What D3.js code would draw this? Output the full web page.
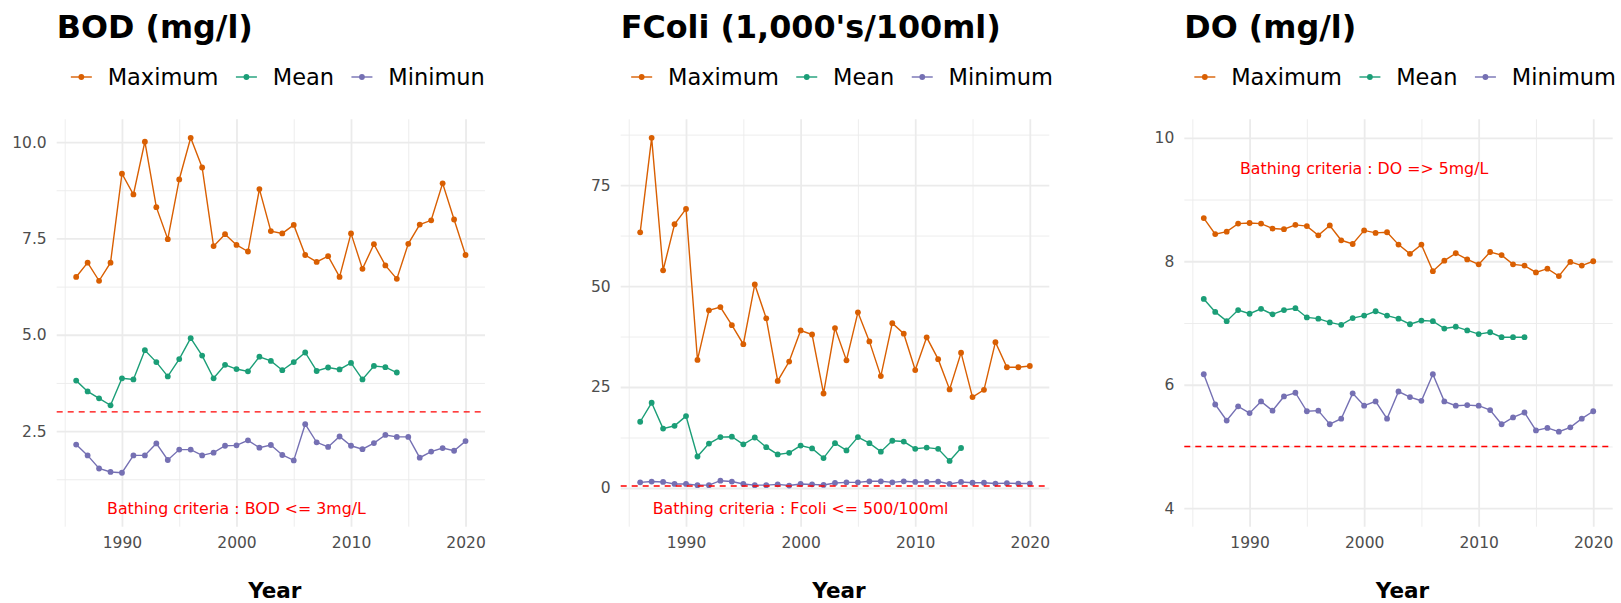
<!DOCTYPE html>
<html>
<head>
<meta charset="utf-8">
<script src="https://cdn.jsdelivr.net/npm/d3@7"></script>
<style>
  body { margin: 0; background: #fff; }
  text { font-family: "DejaVu Sans", sans-serif; }
</style>
</head>
<body>
<div id="chart"></div>
<script>
const years = [1986, 1987, 1988, 1989, 1990, 1991, 1992, 1993, 1994, 1995,
  1996, 1997, 1998, 1999, 2000, 2001, 2002, 2003, 2004, 2005,
  2006, 2007, 2008, 2009, 2010, 2011, 2012, 2013, 2014, 2015,
  2016, 2017, 2018, 2019, 2020];

const bodMax = [6.50, 6.87, 6.40, 6.87, 9.18, 8.64, 10.01, 8.31, 7.48, 9.03,
  10.11, 9.34, 7.30, 7.61, 7.33, 7.16, 8.78, 7.69, 7.63, 7.85,
  7.07, 6.89, 7.04, 6.50, 7.63, 6.71, 7.35, 6.80, 6.45, 7.36,
  7.86, 7.97, 8.93, 7.99, 7.07];
const bodMean = [3.81, 3.53, 3.35, 3.17, 3.87, 3.84, 4.60, 4.29, 3.92, 4.37,
  4.91, 4.46, 3.87, 4.22, 4.11, 4.05, 4.43, 4.32, 4.08, 4.29,
  4.54, 4.06, 4.15, 4.10, 4.27, 3.84, 4.19, 4.16, 4.02];
const bodMin = [2.15, 1.87, 1.53, 1.44, 1.42, 1.87, 1.87, 2.18, 1.75, 2.02,
  2.02, 1.87, 1.94, 2.12, 2.13, 2.26, 2.07, 2.14, 1.88, 1.74,
  2.68, 2.21, 2.09, 2.36, 2.12, 2.03, 2.19, 2.40, 2.35, 2.35,
  1.81, 1.97, 2.06, 1.99, 2.24];

const fcoliMax = [63.3, 86.7, 53.9, 65.3, 69.1, 31.7, 44.0, 44.8, 40.3, 35.6,
  50.4, 42.0, 26.5, 31.3, 39.0, 38.0, 23.4, 39.6, 31.6, 43.5,
  36.3, 27.7, 40.8, 38.2, 29.2, 37.3, 31.9, 24.4, 33.5, 22.5,
  24.3, 36.1, 29.9, 29.9, 30.2];
const fcoliMean = [16.4, 21.1, 14.7, 15.4, 17.8, 7.8, 11.0, 12.6, 12.7, 10.8,
  12.5, 10.1, 8.3, 8.7, 10.5, 9.8, 7.4, 11.1, 9.3, 12.6,
  11.1, 9.0, 11.7, 11.5, 9.7, 10.0, 9.7, 6.7, 9.9];
const fcoliMin = [1.4, 1.6, 1.5, 1.0, 1.0, 0.7, 0.7, 1.8, 1.6, 1.0,
  0.7, 0.7, 0.9, 0.6, 1.0, 0.9, 0.75, 1.25, 1.4, 1.4,
  1.65, 1.65, 1.4, 1.65, 1.5, 1.5, 1.6, 1.0, 1.5, 1.3,
  1.3, 1.1, 1.2, 1.1, 1.1];

const doMax = [8.70, 8.44, 8.48, 8.61, 8.62, 8.61, 8.53, 8.52, 8.59, 8.57,
  8.42, 8.58, 8.34, 8.28, 8.50, 8.46, 8.47, 8.27, 8.12, 8.27,
  7.84, 8.01, 8.13, 8.03, 7.95, 8.15, 8.10, 7.95, 7.93, 7.82,
  7.88, 7.76, 7.99, 7.93, 8.00];
const doMean = [7.39, 7.18, 7.03, 7.21, 7.15, 7.23, 7.14, 7.21, 7.24, 7.09,
  7.07, 7.01, 6.97, 7.08, 7.12, 7.19, 7.12, 7.07, 6.98, 7.04,
  7.03, 6.91, 6.94, 6.88, 6.82, 6.85, 6.77, 6.77, 6.77];
const doMin = [6.17, 5.68, 5.42, 5.65, 5.54, 5.73, 5.58, 5.81, 5.87, 5.57,
  5.58, 5.36, 5.45, 5.86, 5.66, 5.73, 5.45, 5.89, 5.80, 5.74,
  6.17, 5.73, 5.66, 5.67, 5.66, 5.59, 5.36, 5.47, 5.55, 5.26,
  5.30, 5.24, 5.31, 5.45, 5.57];

const xTicks = [1990, 2000, 2010, 2020];
const xMinor = [1985, 1995, 2005, 2015];
const bodTicks = [2.5, 5.0, 7.5, 10.0];
const bodMinor = [1.25, 3.75, 6.25, 8.75];
const fcoliTicks = [0, 25, 50, 75];
const fcoliMinor = [12.5, 37.5, 62.5, 87.5];
const doTicks = [4, 6, 8, 10];
const doMinor = [5, 7, 9];

const colors = { max: "#D95F02", mean: "#1B9E77", min: "#7570B3" };

const panels = [
  {
    title: "BOD (mg/l)", left: 56.7, right: 485,
    series: [["Maximum", bodMax, colors.max], ["Mean", bodMean, colors.mean], ["Minimun", bodMin, colors.min]],
    ticks: bodTicks, minor: bodMinor, fmt: d3.format(".1f"),
    limit: 3, note: "Bathing criteria : BOD <= 3mg/L", noteY: 0.5
  },
  {
    title: "FColi (1,000's/100ml)", left: 620.7, right: 1049.3,
    series: [["Maximum", fcoliMax, colors.max], ["Mean", fcoliMean, colors.mean], ["Minimum", fcoliMin, colors.min]],
    ticks: fcoliTicks, minor: fcoliMinor, fmt: d3.format("d"),
    limit: 0.5, note: "Bathing criteria : Fcoli <= 500/100ml", noteY: -5
  },
  {
    title: "DO (mg/l)", left: 1184.3, right: 1612.7,
    series: [["Maximum", doMax, colors.max], ["Mean", doMean, colors.mean], ["Minimum", doMin, colors.min]],
    ticks: doTicks, minor: doMinor, fmt: d3.format("d"),
    limit: 5, note: "Bathing criteria : DO => 5mg/L", noteY: 9.5, fixed: [4, 10]
  }
];

const plotTop = 119.3, plotBottom = 526.7;

const svg = d3.select("#chart")
  .append("svg")
  .attr("width", 1621)
  .attr("height", 603);

// ggplot-like 5% expansion
function expand(ext) {
  const pad = (ext[1] - ext[0]) * 0.05;
  return [ext[0] - pad, ext[1] + pad];
}

panels.forEach((p) => {
  const g = svg.append("g");

  const x = d3.scaleLinear()
    .domain(expand([years[0], years[years.length - 1]]))
    .range([p.left, p.right]);

  const allVals = p.series.flatMap((s) => s[1]).concat([p.noteY]);
  const y = d3.scaleLinear()
    .domain(expand(p.fixed || d3.extent(allVals)))
    .range([plotBottom, plotTop]);

  const w = p.right - p.left, h = plotBottom - plotTop;

  // minor grid
  g.append("g")
    .attr("class", "grid-minor")
    .attr("transform", `translate(${p.left},0)`)
    .call(d3.axisLeft(y).tickValues(p.minor).tickSize(-w).tickFormat(""));
  g.append("g")
    .attr("class", "grid-minor")
    .attr("transform", `translate(0,${plotBottom})`)
    .call(d3.axisBottom(x).tickValues(xMinor).tickSize(-h).tickFormat(""));

  // major grid
  g.append("g")
    .attr("class", "grid-major")
    .attr("transform", `translate(${p.left},0)`)
    .call(d3.axisLeft(y).tickValues(p.ticks).tickSize(-w).tickFormat(""));
  g.append("g")
    .attr("class", "grid-major")
    .attr("transform", `translate(0,${plotBottom})`)
    .call(d3.axisBottom(x).tickValues(xTicks).tickSize(-h).tickFormat(""));

  g.selectAll(".grid-minor line").style("stroke", "#ebebeb").style("stroke-width", 0.9);
  g.selectAll(".grid-major line").style("stroke", "#ebebeb").style("stroke-width", 1.8);
  g.selectAll(".grid-minor .domain, .grid-major .domain").remove();

  // axis labels
  const ya = g.append("g")
    .attr("transform", `translate(${p.left},0)`)
    .call(d3.axisLeft(y).tickValues(p.ticks).tickSize(0).tickPadding(10).tickFormat(p.fmt));
  const xa = g.append("g")
    .attr("transform", `translate(0,${plotBottom})`)
    .call(d3.axisBottom(x).tickValues(xTicks).tickSize(0).tickPadding(10.5).tickFormat(d3.format("d")));
  [ya, xa].forEach((a) => {
    a.select(".domain").remove();
    a.selectAll("text")
      .style("font-family", '"DejaVu Sans", sans-serif')
      .style("font-size", "15.5px")
      .style("fill", "#4d4d4d");
  });

  // series
  const line = d3.line().x((d) => x(d.year)).y((d) => y(d.value));
  p.series.forEach(([name, vals, color]) => {
    const pts = vals.map((v, i) => ({ year: years[i], value: v }));
    g.append("path")
      .datum(pts)
      .attr("d", line)
      .attr("fill", "none")
      .attr("stroke", color)
      .attr("stroke-width", 1.4);
    g.selectAll(null)
      .data(pts)
      .enter()
      .append("circle")
      .attr("cx", (d) => x(d.year))
      .attr("cy", (d) => y(d.value))
      .attr("r", 2.9)
      .attr("fill", color);
  });

  // criteria line + note
  g.append("line")
    .attr("x1", p.left).attr("x2", p.right)
    .attr("y1", y(p.limit)).attr("y2", y(p.limit))
    .attr("stroke", "#ff0000")
    .attr("stroke-width", 1.4)
    .attr("stroke-dasharray", "6,5");

  g.append("text")
    .attr("x", x(2000))
    .attr("y", y(p.noteY))
    .attr("dy", "0.35em")
    .attr("text-anchor", "middle")
    .style("font-size", "15.8px")
    .style("fill", "#ff0000")
    .text(p.note);

  // title
  g.append("text")
    .attr("x", p.left)
    .attr("y", 37.8)
    .style("font-size", "31.8px")
    .style("font-weight", "bold")
    .style("fill", "#000")
    .text(p.title);

  // x title
  g.append("text")
    .attr("x", (p.left + p.right) / 2 + 4)
    .attr("y", 597.7)
    .attr("text-anchor", "middle")
    .style("font-size", "21.5px")
    .style("font-weight", "bold")
    .style("fill", "#000")
    .text("Year");

  // legend
  const legend = g.append("g");
  let cx = 0;
  p.series.forEach(([name, vals, color]) => {
    const item = legend.append("g").attr("transform", `translate(${cx},0)`);
    item.append("line")
      .attr("x1", 0).attr("x2", 21)
      .attr("y1", 77).attr("y2", 77)
      .attr("stroke", color)
      .attr("stroke-width", 1.4);
    item.append("circle")
      .attr("cx", 10.5).attr("cy", 77).attr("r", 2.9)
      .attr("fill", color);
    const t = item.append("text")
      .attr("x", 36.8)
      .attr("y", 84.8)
      .style("font-size", "22.5px")
      .style("fill", "#000")
      .text(name);
    cx += 36.8 + t.node().getComputedTextLength() + 17.4;
  });
  const total = cx - 17.4;
  let start = (p.left + p.right) / 2 + 7 - total / 2;
  if (start + total > 1616) start = 1616 - total;
  legend.attr("transform", `translate(${start},0)`);
});
</script>
</body>
</html>
